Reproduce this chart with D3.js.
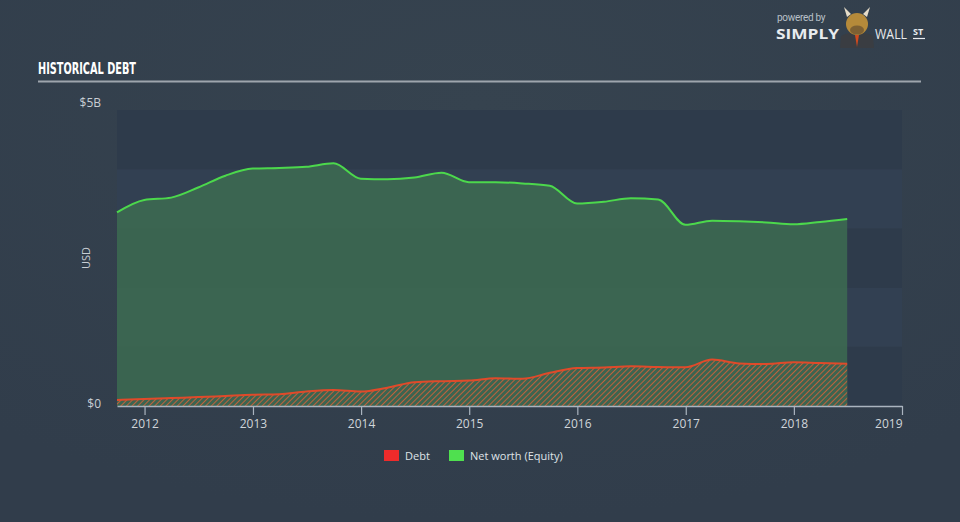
<!DOCTYPE html>
<html>
<head>
<meta charset="utf-8">
<script src="https://cdn.jsdelivr.net/npm/d3@7"></script>
<style>
  body { margin: 0; background: #34414f; }
  svg { display: block; }
  .tick text { font-family: "Open Sans", sans-serif; }
</style>
</head>
<body>
<div id="svgDiv"></div>
<script>
// quarter ends, values in billions USD
var dates = ['2011-09-30','2011-12-31','2012-03-31','2012-06-30','2012-09-30','2012-12-31',
  '2013-03-31','2013-06-30','2013-09-30','2013-12-31','2014-03-31','2014-06-30','2014-09-30',
  '2014-12-31','2015-03-31','2015-06-30','2015-09-30','2015-12-31','2016-03-31','2016-06-30',
  '2016-09-30','2016-12-31','2017-03-31','2017-06-30','2017-09-30','2017-12-31','2018-03-31',
  '2018-06-30'];
var equity = [3.27, 3.48, 3.52, 3.69, 3.89, 4.01, 4.02, 4.04, 4.10, 3.84, 3.83, 3.86, 3.94,
  3.78, 3.78, 3.76, 3.72, 3.42, 3.45, 3.51, 3.49, 3.06, 3.13, 3.12, 3.10, 3.07, 3.11, 3.16];
var debt = [0.10, 0.12, 0.135, 0.15, 0.17, 0.19, 0.20, 0.245, 0.27, 0.245, 0.31, 0.40, 0.42,
  0.43, 0.47, 0.46, 0.56, 0.64, 0.65, 0.67, 0.66, 0.655, 0.785, 0.72, 0.71, 0.74, 0.725, 0.715];
var yearTicks = [2012, 2013, 2014, 2015, 2016, 2017, 2018, 2019];
var yTicks = [0, 5];
var bandSteps = [0, 1, 2, 3, 4];
var legendItems = ['Debt', 'Net worth (Equity)'];
var legendColors = ['#ee2b2b', '#4fe04f'];

var W = 960, H = 522;
var margin = {top: 110, right: 58, bottom: 116, left: 117};
var width = W - margin.left - margin.right,
    height = H - margin.top - margin.bottom;

var parse = d3.timeParse('%Y-%m-%d');
var data = dates.map(function(d, i) {
  return {date: parse(d), equity: equity[i], debt: debt[i]};
});

var x = d3.scaleTime()
  .domain([parse('2011-09-30'), new Date(2019, 0, 1)])
  .range([margin.left, margin.left + width]);
var y = d3.scaleLinear()
  .domain([0, 5])
  .range([margin.top + height, margin.top]);

var svg = d3.select('#svgDiv').append('svg')
  .attr('width', W)
  .attr('height', H);

var defs = svg.append('defs');
var bg = defs.append('radialGradient').attr('id', 'bgGrad')
  .attr('cx', '50%').attr('cy', '20%').attr('r', '80%');
bg.append('stop').attr('offset', '0%').attr('stop-color', '#36434f');
bg.append('stop').attr('offset', '100%').attr('stop-color', '#313d4b');
svg.append('rect').attr('width', W).attr('height', H).attr('fill', 'url(#bgGrad)');

var hatch = defs.append('pattern').attr('id', 'hatch')
  .attr('patternUnits', 'userSpaceOnUse')
  .attr('width', 4).attr('height', 4)
  .attr('patternTransform', 'rotate(45)');
hatch.append('rect').attr('width', 4).attr('height', 4).attr('fill', '#3c6450');
hatch.append('line')
  .attr('x1', 0).attr('y1', 0).attr('x2', 0).attr('y2', 4)
  .attr('stroke', '#bf623c').attr('stroke-width', 2);

// title
svg.append('text')
  .attr('x', 38).attr('y', 74)
  .attr('fill', '#ffffff')
  .attr('font-family', '"Liberation Sans Narrow", "DejaVu Sans Condensed", sans-serif')
  .attr('font-weight', 'bold')
  .attr('font-size', 16)
  .attr('textLength', 98)
  .attr('lengthAdjust', 'spacingAndGlyphs')
  .text('HISTORICAL DEBT');
svg.append('line')
  .attr('x1', 38).attr('x2', 921).attr('y1', 81.5).attr('y2', 81.5)
  .attr('stroke', '#9ea5ad').attr('stroke-width', 2);

// logo
var logo = svg.append('g');
logo.append('text').attr('x', 777).attr('y', 21)
  .attr('fill', '#b9c0c8').attr('font-family', 'Roboto, sans-serif')
  .attr('font-size', 10).attr('letter-spacing', -0.3).text('powered by');
logo.append('text').attr('x', 776).attr('y', 39)
  .attr('fill', '#e8ebee').attr('font-family', '"Open Sans", sans-serif')
  .attr('font-weight', 'bold').attr('font-size', 15)
  .attr('textLength', 63).attr('lengthAdjust', 'spacingAndGlyphs').text('SIMPLY');
logo.append('text').attr('x', 875).attr('y', 39)
  .attr('fill', '#e8ebee').attr('font-family', '"Open Sans", sans-serif')
  .attr('font-size', 15)
  .attr('textLength', 32).attr('lengthAdjust', 'spacingAndGlyphs').text('WALL');
logo.append('text').attr('x', 913).attr('y', 35)
  .attr('fill', '#e8ebee').attr('font-family', '"Open Sans", sans-serif')
  .attr('font-weight', 'bold').attr('font-size', 9).text('ST');
logo.append('line').attr('x1', 913).attr('x2', 925).attr('y1', 38.5).attr('y2', 38.5)
  .attr('stroke', '#e8ebee').attr('stroke-width', 1.2);
// bull
logo.append('path').attr('d', 'M841,36 Q857,28 873,36 L874,48 L840,48 Z').attr('fill', '#3a3d42');
logo.append('path').attr('d', 'M855,35 L859,35 L857,47 Z').attr('fill', '#d14a1e');
logo.append('path').attr('d', 'M847,17 L844,7 L851,14 Z M867,17 L870,7 L863,14 Z').attr('fill', '#e6dcc8');
logo.append('ellipse').attr('cx', 857).attr('cy', 24).attr('rx', 11).attr('ry', 11).attr('fill', '#b58a3a');
logo.append('ellipse').attr('cx', 857).attr('cy', 30).attr('rx', 7).attr('ry', 4.5).attr('fill', '#7d6033');

// plot background bands
svg.append('g').selectAll('rect.band')
  .data(bandSteps)
  .enter()
  .append('rect')
  .attr('class', 'band')
  .attr('x', margin.left)
  .attr('width', width)
  .attr('y', function(d) { return y(d + 1); })
  .attr('height', function(d) { return y(d) - y(d + 1); })
  .attr('fill', function(d) { return d % 2 === 0 ? '#2e3b4b' : '#324052'; });

// equity area + line
var areaEq = d3.area()
  .x(function(d) { return x(d.date); })
  .y0(y(0))
  .y1(function(d) { return y(d.equity); })
  .curve(d3.curveMonotoneX);
var lineEq = d3.line()
  .x(function(d) { return x(d.date); })
  .y(function(d) { return y(d.equity); })
  .curve(d3.curveMonotoneX);

svg.append('path').datum(data)
  .attr('d', areaEq)
  .attr('fill', '#3c6a51')
  .attr('fill-opacity', 0.88);

// debt area + line
var areaDebt = d3.area()
  .x(function(d) { return x(d.date); })
  .y0(y(0))
  .y1(function(d) { return y(d.debt); })
  .curve(d3.curveMonotoneX);
var lineDebt = d3.line()
  .x(function(d) { return x(d.date); })
  .y(function(d) { return y(d.debt); })
  .curve(d3.curveMonotoneX);

svg.append('path').datum(data)
  .attr('d', areaDebt)
  .attr('fill', 'url(#hatch)');
svg.append('path').datum(data)
  .attr('d', lineDebt)
  .attr('fill', 'none')
  .attr('stroke', '#e04a2a')
  .attr('stroke-width', 2);

svg.append('path').datum(data)
  .attr('d', lineEq)
  .attr('fill', 'none')
  .attr('stroke', '#4cd84c')
  .attr('stroke-width', 2);

// x axis
var xAxis = d3.axisBottom(x)
  .tickValues(yearTicks.map(function(yr) { return new Date(yr, 0, 1); }))
  .tickFormat(d3.timeFormat('%Y'))
  .tickSizeInner(9)
  .tickSizeOuter(0)
  .tickPadding(4);

var gx = svg.append('g')
  .attr('class', 'x axis')
  .attr('transform', 'translate(0,' + (margin.top + height) + ')')
  .call(xAxis);
gx.select('.domain').attr('stroke', '#aab4bf').attr('stroke-width', 1.5);
gx.selectAll('.tick line').attr('stroke', '#aab4bf').attr('stroke-width', 1.2);
gx.selectAll('.tick text')
  .attr('fill', '#d0d5da')
  .attr('font-size', 12);
gx.selectAll('.tick text').filter(function(d) { return d.getFullYear() === 2019; })
  .attr('text-anchor', 'end');

// y axis labels
svg.append('g').selectAll('text.ylab')
  .data(yTicks)
  .enter()
  .append('text')
  .attr('class', 'ylab')
  .attr('x', 101)
  .attr('y', function(d) { return y(d) + (d === 0 ? 2 : -3); })
  .attr('text-anchor', 'end')
  .attr('fill', '#c8ced4')
  .attr('font-family', '"Open Sans", sans-serif')
  .attr('font-size', 12)
  .text(function(d) { return d === 0 ? '$0' : '$' + d + 'B'; });

svg.append('text')
  .attr('transform', 'translate(90,258) rotate(-90)')
  .attr('text-anchor', 'middle')
  .attr('fill', '#c8ced4')
  .attr('font-family', '"Open Sans", sans-serif')
  .attr('font-size', 11)
  .text('USD');

// legend
var legend = svg.append('g').selectAll('g.leg')
  .data(legendItems)
  .enter()
  .append('g')
  .attr('class', 'leg')
  .attr('transform', function(d, i) { return 'translate(' + (i === 0 ? 384 : 449) + ',450)'; });
legend.append('rect')
  .attr('width', 15).attr('height', 11)
  .attr('fill', function(d, i) { return legendColors[i]; });
legend.append('text')
  .attr('x', 21).attr('y', 10)
  .attr('fill', '#dfe3e7')
  .attr('font-family', '"Open Sans", sans-serif')
  .attr('font-size', 11)
  .text(function(d) { return d; });
</script>
</body>
</html>
